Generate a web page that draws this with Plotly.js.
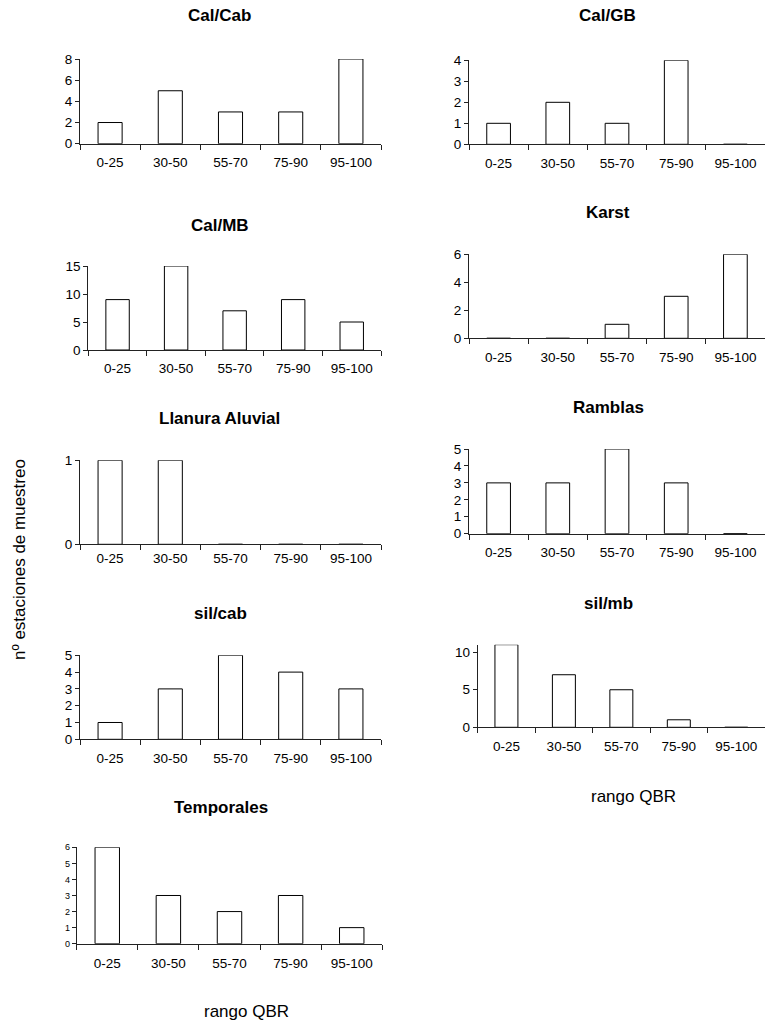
<!DOCTYPE html>
<html>
<head>
<meta charset="utf-8">
<script src="https://cdn.plot.ly/plotly-3.0.1.min.js"></script>
<style>html,body{margin:0;padding:0;background:#fff;}#chart{width:765px;height:1023px;}</style>
</head>
<body>
<div id="chart"></div>
<script>
// Data
const categories = ["0-25", "30-50", "55-70", "75-90", "95-100"];
const calCab = [2, 5, 3, 3, 8];
const calGB = [1, 2, 1, 4, 0];
const calMB = [9, 15, 7, 9, 5];
const karst = [0, 0, 1, 3, 6];
const llanuraAluvial = [1, 1, 0, 0, 0];
const ramblas = [3, 3, 5, 3, 0];
const silCab = [1, 3, 5, 4, 3];
const silMb = [11, 7, 5, 1, 0];
const temporales = [6, 3, 2, 3, 1];
const panelTitles = ["Cal/Cab", "Cal/GB", "Cal/MB", "Karst", "Llanura Aluvial", "Ramblas", "sil/cab", "sil/mb", "Temporales"];
const xAxisTitle = "rango QBR";
const yAxisTitle = "nº estaciones de muestreo";

const W = 765, H = 1023;
const FONT = "Liberation Sans, Arial, Helvetica, sans-serif";

// panel layout: [series, pixel left, pixel right, pixel top (max value), pixel bottom (zero), ymax, dtick, title x, title y, ytick font size, x label standoff]
const panels = [
  [calCab, 80, 381, 59, 143.7, 8, 2, 220, 16, 13.5, 6],
  [calGB, 469, 765, 60.3, 144.3, 4, 1, 607, 16, 13.5, 6],
  [calMB, 88.3, 381, 266, 350, 15, 5, 220, 225, 13.5, 6],
  [karst, 469, 765, 254.3, 338.3, 6, 2, 608, 212, 13.5, 6],
  [llanuraAluvial, 80, 381, 460.3, 544.3, 1, 1, 220, 418, 13.5, 1],
  [ramblas, 469, 765, 449, 533.7, 5, 1, 608, 407, 13.5, 6],
  [silCab, 80, 381, 655.3, 739.3, 5, 1, 221, 613, 13.5, 6],
  [silMb, 477.7, 765, 644.7, 727.3, 11, 5, 608, 603, 13.5, 6],
  [temporales, 76.7, 382.3, 847.3, 943.7, 6, 1, 221, 807, 9, 7]
];

const traces = [];
const layout = {
  width: W, height: H,
  margin: {l: 0, r: 0, t: 0, b: 0},
  paper_bgcolor: "#fff", plot_bgcolor: "#fff",
  showlegend: false,
  bargap: 0.6,
  font: {family: FONT, color: "#000", size: 13},
  annotations: []
};

panels.forEach((p, i) => {
  const n = i + 1;
  const xa = n === 1 ? "xaxis" : "xaxis" + n;
  const ya = n === 1 ? "yaxis" : "yaxis" + n;
  traces.push({
    type: "bar",
    x: categories,
    y: p[0],
    xaxis: "x" + (n === 1 ? "" : n),
    yaxis: "y" + (n === 1 ? "" : n),
    marker: {color: "#fff", line: {color: "#000", width: 1}},
    hoverinfo: "x+y"
  });
  layout[xa] = {
    domain: [p[1] / W, Math.min(1, p[2] / W)],
    anchor: "y" + (n === 1 ? "" : n),
    type: "category",
    categoryorder: "array",
    categoryarray: categories,
    range: [-0.5, 4.5],
    showline: true, linecolor: "#222", linewidth: 1,
    ticks: "outside", tickson: "boundaries", ticklen: 5, tickcolor: "#222",
    ticklabelstandoff: p[10],
    showgrid: false, zeroline: false,
    tickfont: {size: 13.5, family: FONT, color: "#000"},
    fixedrange: true
  };
  layout[ya] = {
    domain: [1 - p[4] / H, 1 - p[3] / H],
    anchor: "x" + (n === 1 ? "" : n),
    range: [0, p[5]],
    dtick: p[6], tick0: 0,
    showline: true, linecolor: "#222", linewidth: 1,
    ticks: "outside", ticklen: 4, tickcolor: "#222",
    showgrid: false, zeroline: false,
    tickfont: {size: p[9], family: FONT, color: "#000"},
    fixedrange: true
  };
  layout.annotations.push({
    text: "<b>" + panelTitles[i] + "</b>",
    x: p[7] / W, y: 1 - p[8] / H, xref: "paper", yref: "paper",
    xanchor: "center", yanchor: "middle", showarrow: false,
    font: {size: 17, family: FONT, color: "#000"}
  });
});

// axis titles
layout.annotations.push({
  text: xAxisTitle, x: 246.7 / W, y: 1 - 1011.7 / H, xref: "paper", yref: "paper",
  xanchor: "center", yanchor: "middle", showarrow: false,
  font: {size: 17, family: FONT, color: "#000"}
});
layout.annotations.push({
  text: xAxisTitle, x: 633 / W, y: 1 - 796.7 / H, xref: "paper", yref: "paper",
  xanchor: "center", yanchor: "middle", showarrow: false,
  font: {size: 17, family: FONT, color: "#000"}
});
layout.annotations.push({
  text: yAxisTitle, x: 19 / W, y: 1 - 560 / H, xref: "paper", yref: "paper",
  xanchor: "center", yanchor: "middle", showarrow: false, textangle: -90,
  font: {size: 17, family: FONT, color: "#000"}
});

Plotly.newPlot("chart", traces, layout, {displayModeBar: false, staticPlot: true});
</script>
</body>
</html>
